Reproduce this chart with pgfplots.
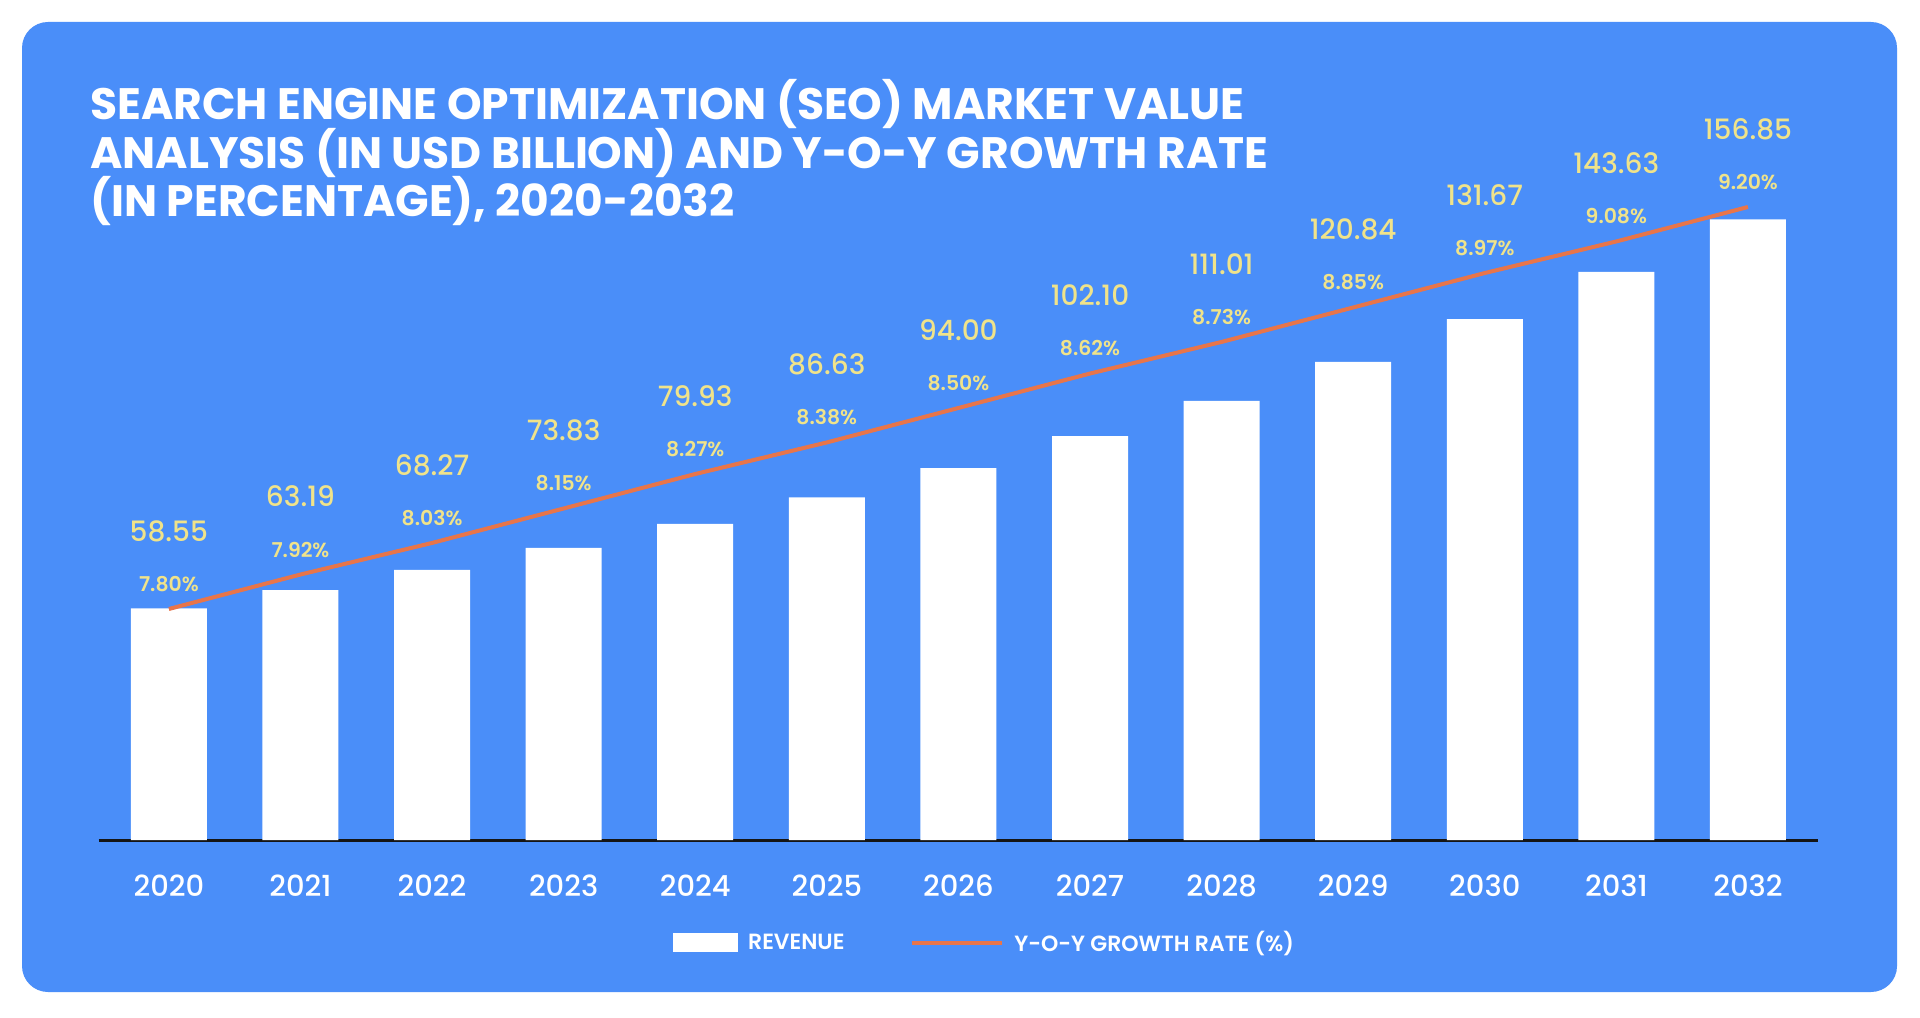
\documentclass[border=0pt]{standalone}
\usepackage{fontspec}
\setmainfont{Poppins}
\newfontfamily\popmed{Poppins Medium}
\newfontfamily\popsemi{Poppins SemiBold}
\usepackage{pgfplots}
\usepackage{pgfplotstable}
\pgfplotsset{compat=1.18}
\definecolor{cardc}{HTML}{4A8EF9}
\definecolor{labc}{HTML}{F0E38A}
\definecolor{linec}{HTML}{E8754A}
\definecolor{axisc}{HTML}{151515}
\pgfplotstableread{
x year rev g
0 2020 58.55 7.80
1 2021 63.19 7.92
2 2022 68.27 8.03
3 2023 73.83 8.15
4 2024 79.93 8.27
5 2025 86.63 8.38
6 2026 94.00 8.50
7 2027 102.10 8.62
8 2028 111.01 8.73
9 2029 120.84 8.85
10 2030 131.67 8.97
11 2031 143.63 9.08
12 2032 156.85 9.20
}\datatable
\begin{document}
\begin{tikzpicture}
\path[use as bounding box] (0pt,0pt) rectangle (960pt,508.5pt);
\fill[white] (0pt,0pt) rectangle (960pt,508.5pt);
\fill[cardc, rounded corners=13pt] (11pt,12.5pt) rectangle (948.5pt,497.5pt);
\begin{scope}[every node/.style={anchor=base west, inner sep=0pt, text=white, font=\bfseries\fontsize{22}{24}\selectfont}]
\node at (45pt,448.5pt) {SEARCH ENGINE OPTIMIZATION (SEO) MARKET VALUE};
\node at (45pt,424.35pt) {ANALYSIS (IN USD BILLION) AND Y-O-Y GROWTH RATE};
\node at (45pt,400.15pt) {(IN PERCENTAGE), 2020-2032};
\end{scope}
\begin{axis}[
  at={(49.3pt,88.5pt)}, anchor=south west,
  scale only axis, width=859.8pt, height=316.5pt,
  xmin=-0.534, xmax=12.534, ymin=0, ymax=160,
  axis x line*=bottom, axis y line=none,
  x axis line style={draw=axisc, line width=1.5pt},
  xtick={0,...,12},
  xticklabels={2020,2021,2022,2023,2024,2025,2026,2027,2028,2029,2030,2031,2032},
  ytick=\empty,
  major tick length=0pt,
  xticklabel style={anchor=base, yshift=-28.2pt, text=white, font=\popmed\fontsize{14.5}{16}\selectfont},
  clip=false,
  legend columns=2,
  legend style={draw=none, fill=none, at={(0.3339,-0.1627)}, anchor=west,
    inner xsep=0pt, inner ysep=0pt,
    font=\popsemi\fontsize{11}{12}\selectfont, text=white,
    /tikz/every odd column/.append style={column sep=3pt},
    /tikz/every even column/.append style={column sep=30.5pt}},
]
\addplot[ybar, bar width=38pt, fill=white, draw=none,
  legend image code/.code={\fill[white] (0pt,-4.75pt) rectangle (32.5pt,4.75pt);}]
  table[x=x,y=rev]{\datatable};
\addlegendentry{REVENUE}
\addlegendimage{legend image code/.code={\draw[linec, line width=2.4pt] (0pt,0pt) -- (45pt,0pt);}}
\addlegendentry{Y-O-Y GROWTH RATE (\%)}
\end{axis}
\begin{axis}[
  at={(49.3pt,88.5pt)}, anchor=south west,
  scale only axis, width=859.8pt, height=316.5pt,
  xmin=-0.534, xmax=12.534, ymin=6.9955, ymax=9.20,
  hide axis, clip=false,
]
\addplot[linec, line width=2pt, mark=none,
  point meta=explicit symbolic,
  nodes near coords={\pgfplotspointmeta\%},
  every node near coord/.style={anchor=center, yshift=12.5pt, text=labc, font=\popsemi\fontsize{10.2}{12}\selectfont}]
  table[x=x,y=g,meta=g]{\datatable};
\addplot[draw=none, mark=none,
  point meta=explicit symbolic,
  nodes near coords={\pgfplotspointmeta},
  every node near coord/.style={anchor=center, yshift=39pt, text=labc, font=\popmed\fontsize{14}{16}\selectfont}]
  table[x=x,y=g,meta=rev]{\datatable};
\end{axis}
\end{tikzpicture}
\end{document}
